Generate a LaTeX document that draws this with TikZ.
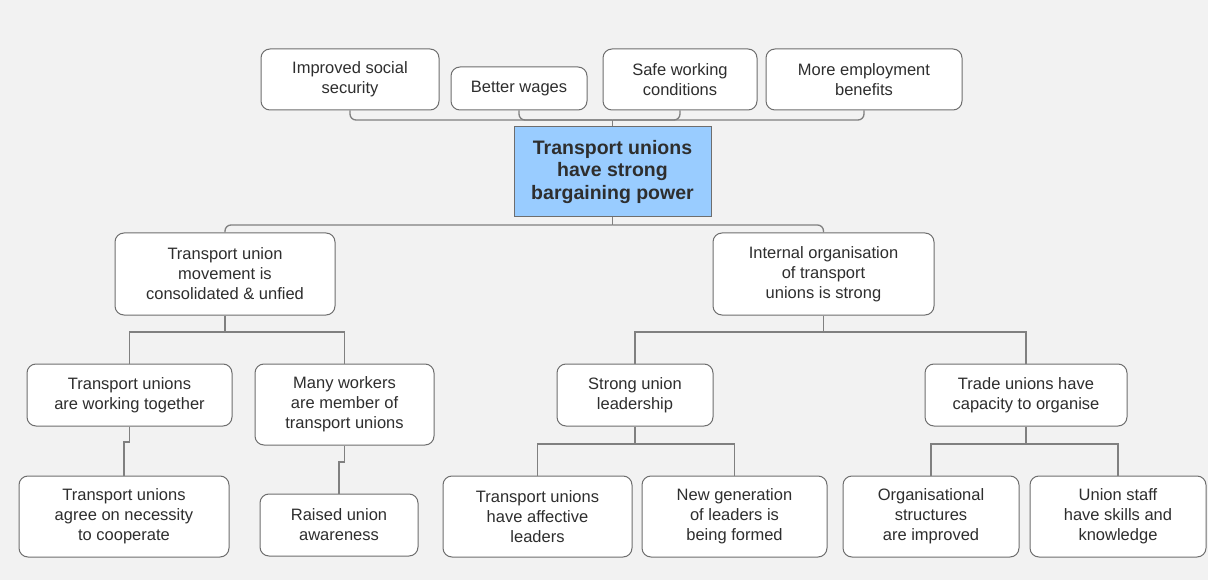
\documentclass[tikz,border=0pt]{standalone}
\usepackage{fontspec}
\setmainfont{Liberation Sans}
\definecolor{bg}{HTML}{F2F2F2}
\definecolor{bordergray}{HTML}{6E6E6E}
\definecolor{conngray}{HTML}{808080}
\definecolor{textgray}{HTML}{2E2E2E}
\definecolor{coreblue}{HTML}{99CCFF}
\begin{document}
\begin{tikzpicture}[x=1pt,y=-1pt,
  box/.style={draw=bordergray, fill=white, rounded corners=9pt, line width=1pt, align=center, text=textgray, font=\fontsize{16.5}{20}\selectfont, inner sep=0pt},
  corebox/.style={draw=bordergray, fill=coreblue, line width=1pt, align=center, text=textgray, font=\bfseries\fontsize{19.5}{22.5}\selectfont, inner sep=0pt},
  conn/.style={draw=conngray, line width=1.3pt},
  rconn/.style={conn, rounded corners=6pt}]
\useasboundingbox[fill=bg] (0,0) rectangle (1208,580);
% top row
\node[box, minimum width=178, minimum height=61] (iss) at (350,79.5) {Improved social\\security};
\node[box, minimum width=136, minimum height=43] (bw) at (519,88.5) {Better wages};
\node[box, minimum width=154, minimum height=61] (swc) at (680,79.5) {Safe working\\conditions};
\node[box, minimum width=196, minimum height=61] (meb) at (864,79.5) {More employment\\benefits};
% core
\node[corebox, minimum width=197, minimum height=90] (core) at (612.5,172) {Transport unions\\have strong\\bargaining power};
% level 2
\node[box, minimum width=220, minimum height=82] (l2a) at (225,274) {Transport union\\movement is\\consolidated \& unfied};
\node[box, minimum width=221, minimum height=82] (l2b) at (823.5,274) {Internal organisation\\of transport\\unions is strong};
% level 3
\node[box, minimum width=205, minimum height=62] (a1) at (129.5,395) {Transport unions\\are working together};
\node[box, minimum width=179, minimum height=81] (a2) at (344.5,404.5) {Many workers\\are member of\\transport unions};
\node[box, minimum width=156, minimum height=62] (b1) at (635,395) {Strong union\\leadership};
\node[box, minimum width=202, minimum height=62] (b2) at (1026,395) {Trade unions have\\capacity to organise};
% level 4
\node[box, minimum width=210, minimum height=81] (a1c) at (124,516.5) {Transport unions\\agree on necessity\\to cooperate};
\node[box, minimum width=158, minimum height=62] (a2c) at (339,525) {Raised union\\awareness};
\node[box, minimum width=189, minimum height=81] (b1a) at (537.5,516.5) {Transport unions\\have affective\\leaders};
\node[box, minimum width=185, minimum height=81] (b1b) at (734.5,516.5) {New generation\\of leaders is\\being formed};
\node[box, minimum width=176, minimum height=81] (b2a) at (931,516.5) {Organisational\\structures\\are improved};
\node[box, minimum width=176, minimum height=81] (b2b) at (1118,516.5) {Union staff\\have skills and\\knowledge};
% connector coordinates
\coordinate (tbus) at (612.5,120);
\coordinate (mbus) at (612.5,225);
\coordinate (abus) at (225,332);
\coordinate (bbus) at (823.5,332);
\coordinate (aj1) at (129.5,442);
\coordinate (aj2) at (344.5,462);
\coordinate (b1bus) at (635,444);
\coordinate (b2bus) at (1026,444);
% top connectors
\draw[rconn] (iss.south) |- (tbus);
\draw[rconn] (bw.south) |- (tbus);
\draw[rconn] (swc.south) |- (tbus);
\draw[rconn] (meb.south) |- (tbus);
\draw[conn] (tbus) -- (core.north);
% level 2 connectors
\draw[conn] (core.south) -- (mbus);
\draw[rconn] (l2a.north) |- (mbus);
\draw[rconn] (l2b.north) |- (mbus);
% left subtree
\draw[conn] (l2a.south) -- (abus);
\draw[conn] (a1.north) |- (abus);
\draw[conn] (a2.north) |- (abus);
\draw[conn] (a1.south) -- (aj1) -| (a1c.north);
\draw[conn] (a2.south) -- (aj2) -| (a2c.north);
% right subtree
\draw[conn] (l2b.south) -- (bbus);
\draw[conn] (b1.north) |- (bbus);
\draw[conn] (b2.north) |- (bbus);
\draw[conn] (b1.south) -- (b1bus);
\draw[conn] (b1a.north) |- (b1bus);
\draw[conn] (b1b.north) |- (b1bus);
\draw[conn] (b2.south) -- (b2bus);
\draw[conn] (b2a.north) |- (b2bus);
\draw[conn] (b2b.north) |- (b2bus);
\end{tikzpicture}
\end{document}
